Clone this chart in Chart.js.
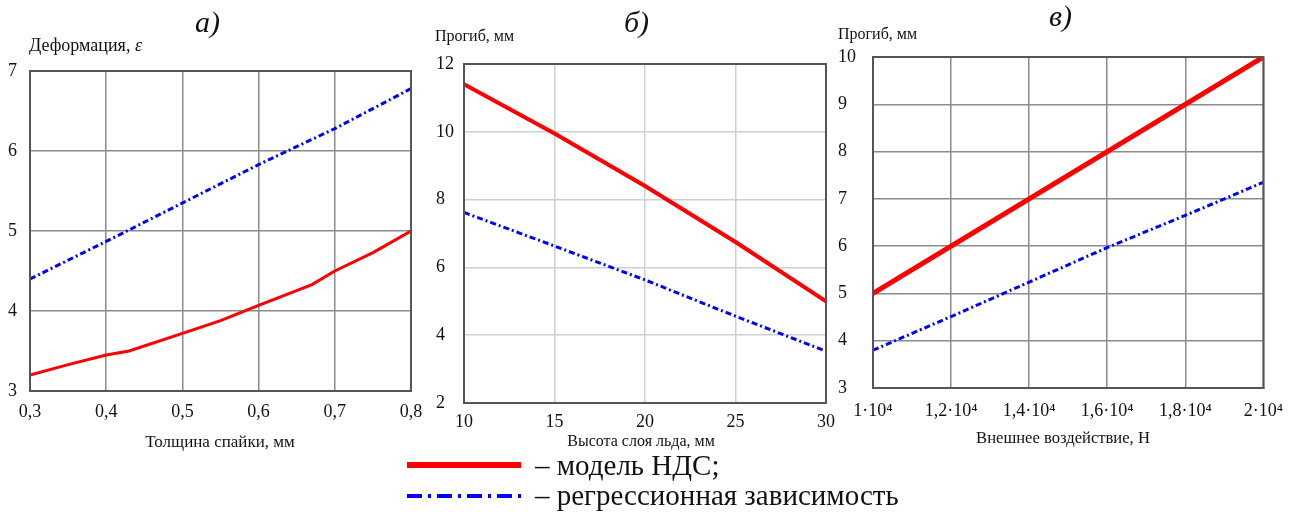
<!DOCTYPE html>
<html lang="ru">
<head>
<meta charset="UTF-8">
<title>Деформация и прогиб</title>
<script src="https://cdn.jsdelivr.net/npm/chart.js"></script>
<style>
    body {
        margin: 0;
        width: 1295px;
        height: 512px;
        background: #fff;
        position: relative;
        overflow: hidden;
        font-family: "Liberation Serif", "DejaVu Serif", serif;
        color: #111;
    }
    canvas { position: absolute; }
    .txt { position: absolute; white-space: nowrap; line-height: 1; }
    .letter { font-style: italic; font-size: 30px; }
    .ytitle { font-size: 16px; }
    .xtitle { font-size: 16px; transform: translateX(-50%); }
    .leg { font-size: 29px; }
</style>
</head>
<body>
<canvas id="chartA" width="425" height="440" style="left:8px; top:0;"></canvas>
<canvas id="chartB" width="408" height="450" style="left:436px; top:0;"></canvas>
<canvas id="chartC" width="457" height="440" style="left:838px; top:0;"></canvas>

<div class="txt letter" style="left:195px; top:7px;">а)</div>
<div class="txt letter" style="left:624px; top:7px;">б)</div>
<div class="txt letter" style="left:1049px; top:1px;">в)</div>

<div class="txt ytitle" style="left:29px; top:36px; font-size:18px;">Деформация, <i>ε</i></div>
<div class="txt ytitle" style="left:435px; top:28px;">Прогиб, мм</div>
<div class="txt ytitle" style="left:838px; top:26px;">Прогиб, мм</div>

<div class="txt xtitle" style="left:220px; top:433px; font-size:17px;">Толщина спайки, мм</div>
<div class="txt xtitle" style="left:641px; top:433px;">Высота слоя льда, мм</div>
<div class="txt xtitle" style="left:1063px; top:430px; font-size:16.6px;">Внешнее воздействие, Н</div>

<div style="position:absolute; left:407px; top:462px; width:114px; height:6px; background:#ff0000;"></div>
<svg style="position:absolute; left:407px; top:492px;" width="114" height="8">
    <line x1="0" y1="4" x2="114" y2="4" stroke="#0000ff" stroke-width="4" stroke-dasharray="15 6 3 6"></line>
</svg>
<div class="txt leg" style="left:535px; top:451px;">– модель НДС;</div>
<div class="txt leg" style="left:535px; top:481px;">– регрессионная зависимость</div>

<script>
// panel а) deformation vs solder thickness
const aRedX = [0.3, 0.35, 0.4, 0.43, 0.5, 0.55, 0.6, 0.67, 0.7, 0.75, 0.8];
const aRedY = [3.2, 3.33, 3.45, 3.5, 3.72, 3.88, 4.07, 4.33, 4.5, 4.73, 5.0];
const aBlueX = [0.3, 0.4, 0.5, 0.6, 0.7, 0.8];
const aBlueY = [4.4, 4.87, 5.35, 5.83, 6.28, 6.78];
const aXTicks = ['0,3', '0,4', '0,5', '0,6', '0,7', '0,8'];
const aYTicks = ['3', '4', '5', '6', '7'];

// panel б) deflection vs ice layer height
const bX = [10, 15, 20, 25, 30];
const bRedY = [11.4, 9.95, 8.4, 6.75, 5.0];
const bBlueY = [7.62, 6.63, 5.63, 4.56, 3.53];
const bXTicks = ['10', '15', '20', '25', '30'];
const bYTicks = ['2', '4', '6', '8', '10', '12'];

// panel в) deflection vs external load
const cX = [10000, 12000, 14000, 16000, 18000, 20000];
const cRedY = [5.0, 6.0, 7.0, 8.0, 9.0, 10.0];
const cBlueY = [3.8, 4.51, 5.24, 5.97, 6.65, 7.35];
const cXTicks = ['1·10⁴', '1,2·10⁴', '1,4·10⁴', '1,6·10⁴', '1,8·10⁴', '2·10⁴'];
const cYTicks = ['3', '4', '5', '6', '7', '8', '9', '10'];

const RED = '#ff0000';
const BLUE = '#0000ff';
const FONT = { family: 'Liberation Serif', size: 18 };

const frame = {
    id: 'frame',
    afterDraw(chart) {
        const { ctx, chartArea: a } = chart;
        ctx.save();
        ctx.strokeStyle = '#555';
        ctx.lineWidth = 2;
        ctx.strokeRect(a.left, a.top, a.right - a.left, a.bottom - a.top);
        ctx.restore();
    }
};

function pts(xs, ys) {
    return xs.map((x, i) => ({ x: x, y: ys[i] }));
}

function makeChart(id, o) {
    new Chart(document.getElementById(id), {
        type: 'scatter',
        data: {
            datasets: [
                { data: pts(o.redX, o.redY), showLine: true, borderColor: RED, borderWidth: o.redW, pointRadius: 0, tension: 0 },
                { data: pts(o.blueX, o.blueY), showLine: true, borderColor: BLUE, borderWidth: 3, borderDash: [6, 3, 2, 3], pointRadius: 0, tension: 0 }
            ]
        },
        options: {
            responsive: false,
            animation: false,
            layout: { padding: { top: o.top, right: o.right, bottom: 0, left: 0 } },
            plugins: { legend: { display: false }, tooltip: { enabled: false } },
            scales: {
                x: {
                    type: 'linear',
                    min: o.xMin, max: o.xMax,
                    afterFit: s => { s.height = o.xH; },
                    afterBuildTicks: s => { s.ticks = o.xVals.map(v => ({ value: v })); },
                    ticks: { font: FONT, color: '#111', padding: o.xPad, maxRotation: 0, autoSkip: false,
                             callback: (v, i) => o.xTicks[i] },
                    grid: { color: o.grid, lineWidth: 1.5, drawTicks: false },
                    border: { color: '#555', width: 2 }
                },
                y: {
                    min: o.yMin, max: o.yMax,
                    afterFit: s => { s.width = o.yW; },
                    ticks: { stepSize: o.yStep, font: FONT, color: '#111', crossAlign: 'far',
                             callback: (v, i) => o.yTicks[i] },
                    grid: { color: o.grid, lineWidth: 1.5, drawTicks: false },
                    border: { color: '#555', width: 2 }
                }
            }
        },
        plugins: [frame]
    });
}

makeChart('chartA', {
    redX: aRedX, redY: aRedY, blueX: aBlueX, blueY: aBlueY, redW: 3,
    xMin: 0.3, xMax: 0.8, xVals: [0.3, 0.4, 0.5, 0.6, 0.7, 0.8], xTicks: aXTicks,
    yMin: 3, yMax: 7, yStep: 1, yTicks: aYTicks,
    top: 71, right: 22, xH: 49, yW: 22, xPad: 10, grid: '#8c8c8c'
});

makeChart('chartB', {
    redX: bX, redY: bRedY, blueX: bX, blueY: bBlueY, redW: 4,
    xMin: 10, xMax: 30, xVals: [10, 15, 20, 25, 30], xTicks: bXTicks,
    yMin: 2, yMax: 12, yStep: 2, yTicks: bYTicks,
    top: 64, right: 18, xH: 47, yW: 28, xPad: 8, grid: '#cfcfcf'
});

makeChart('chartC', {
    redX: cX, redY: cRedY, blueX: cX, blueY: cBlueY, redW: 5,
    xMin: 10000, xMax: 20000, xVals: cX, xTicks: cXTicks,
    yMin: 3, yMax: 10, yStep: 1, yTicks: cYTicks,
    top: 57, right: 30, xH: 52, yW: 35, xPad: 12, grid: '#8c8c8c'
});
</script>
</body>
</html>
